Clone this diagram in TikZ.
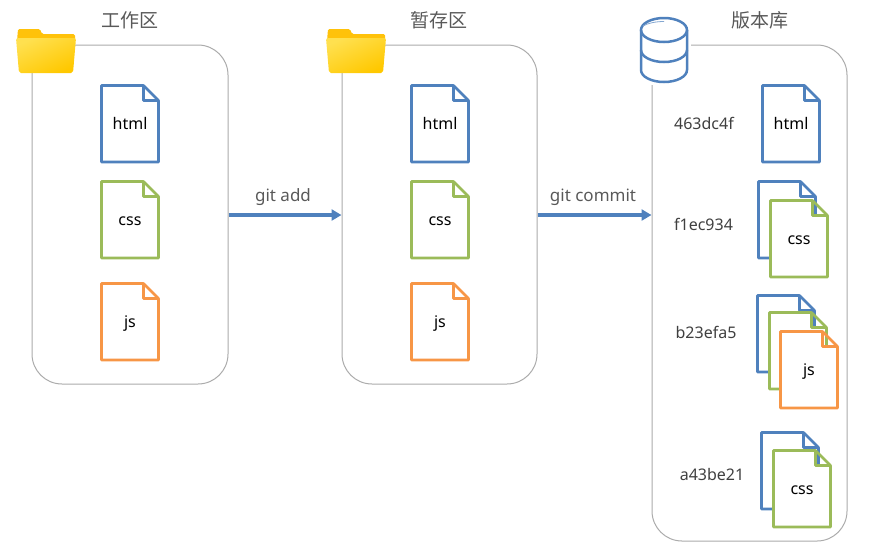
\documentclass[tikz,border=0pt]{standalone}
\usepackage{fontspec}
\setmainfont{Noto Sans}
\newfontfamily\cjk{Noto Sans CJK SC}
\usetikzlibrary{positioning, arrows.meta}

\definecolor{fileblue}{HTML}{4F81BD}
\definecolor{filegreen}{HTML}{9BBB59}
\definecolor{fileorange}{HTML}{F79646}
\definecolor{frameline}{HTML}{ABABAB}
\definecolor{titlegray}{HTML}{595959}
\definecolor{foldertab}{HTML}{FFC20A}
\definecolor{folderlight}{HTML}{FFE04F}
\definecolor{folderdark}{HTML}{FFC800}

\tikzset{
  areabox/.style={draw=frameline, line width=1pt, rounded corners=30pt, inner sep=0pt},
  areatitle/.style={font=\cjk\fontsize{19}{21}\selectfont, text=titlegray},
  cmdlabel/.style={font=\fontsize{17}{19}\selectfont, text=titlegray},
  filelabel/.style={font=\fontsize{16}{18}\selectfont, text=black, anchor=base},
  hashlabel/.style={font=\fontsize{16}{18}\selectfont, text=black!75},
  flowarrow/.style={draw=fileblue, line width=3.5pt, -{Triangle[length=10pt,width=11pt]}}
}

% one document icon: left, top, colour, name, label
\newcommand{\docfile}[5]{
  \fill[white] (#1+.5,#2+.5) -- ++(42,0) -- ++(0,15) -- ++(15,0) -- ++(0,61.5) -- ++(-57,0) -- cycle;
  \draw[#3, line width=2.6pt, line join=round] (#1+.5,#2+.5) -- ++(42,0) -- ++(15,15) -- ++(0,61.5) -- ++(-57,0) -- cycle;
  \draw[#3, line width=2.6pt, line join=round] (#1+42.5,#2+.5) -- ++(0,15) -- ++(15,0);
  \node[filelabel] (#4) at (#1+29,#2+44) {#5};
}

% folder icon with its tab, left and top
\newcommand{\foldericon}[2]{
  \fill[foldertab, rounded corners=1.5pt] (#1+1,#2+12) -- ++(1,-12) -- ++(22,0) -- ++(2,5) -- ++(33,0) -- ++(0,7) -- cycle;
  \shade[rounded corners=2pt, top color=folderlight, bottom color=folderdark, shading angle=25] (#1,#2+9) -- ++(60,0) -- ++(-3,35) -- ++(-54,0) -- cycle;
}

\begin{document}
\begin{tikzpicture}[x=1pt, y=-1pt]
  \useasboundingbox (0,0) rectangle (872,542);

  \node[areabox, minimum width=196pt, minimum height=339pt] (workbox) at (130,214.5) {};
  \node[areabox, minimum width=195pt, minimum height=339pt] (stagebox) at (439.5,214.5) {};
  \node[areabox, minimum width=195pt, minimum height=496pt] (repobox) at (749.5,293) {};

  \node[areatitle] (worktitle) at (130,20) {工作区};
  \node[areatitle] (stagetitle) at (439,20) {暂存区};
  \node[areatitle] (repotitle) at (760,20) {版本库};

  \foldericon{16}{29}
  \foldericon{326}{29}

  % database drum
  \fill[white] (636,14) rectangle (691,85);
  \draw[fileblue, line width=2.5pt] (641,30) -- (641,70) arc[start angle=180, end angle=0, x radius=23, y radius=12] -- (687,30);
  \draw[fileblue, line width=2.5pt] (664,30) ellipse[x radius=23, y radius=12];
  \draw[fileblue, line width=2.5pt] (641,50) arc[start angle=180, end angle=0, x radius=23, y radius=12];
  \draw[fileblue!70, line width=0.8pt] (643,26) .. controls (648,23) and (656,21.5) .. (664,21.5);

  % working tree
  \docfile{101}{85}{fileblue}{workhtml}{html}
  \docfile{101}{181}{filegreen}{workcss}{css}
  \docfile{101}{283}{fileorange}{workjs}{js}

  % staging area
  \docfile{411}{85}{fileblue}{stagehtml}{html}
  \docfile{411}{181}{filegreen}{stagecss}{css}
  \docfile{411}{283}{fileorange}{stagejs}{js}

  % commits
  \docfile{762}{85}{fileblue}{repohtml}{html}

  \docfile{758}{181}{fileblue}{secondhtml}{}
  \docfile{770}{200}{filegreen}{secondcss}{css}

  \docfile{757}{295}{fileblue}{thirdhtml}{}
  \docfile{769}{312}{filegreen}{thirdcss}{}
  \docfile{780}{331}{fileorange}{thirdjs}{js}

  \docfile{761}{432}{fileblue}{fourthhtml}{}
  \docfile{773}{450}{filegreen}{fourthcss}{css}

  \node[hashlabel] (hashone) at (704,123.5) {463dc4f};
  \node[hashlabel] (hashtwo) at (703.5,224.5) {f1ec934};
  \node[hashlabel] (hashthree) at (706,332.5) {b23efa5};
  \node[hashlabel] (hashfour) at (712,474.5) {a43be21};

  \draw[flowarrow] (workbox.east |- 0,215) -- (stagebox.west |- 0,215);
  \draw[flowarrow] (stagebox.east |- 0,215) -- (repobox.west |- 0,215);
  \node[cmdlabel] (addlabel) at (283,197) {git add};
  \node[cmdlabel] (commitlabel) at (593,197) {git commit};
\end{tikzpicture}
\end{document}
